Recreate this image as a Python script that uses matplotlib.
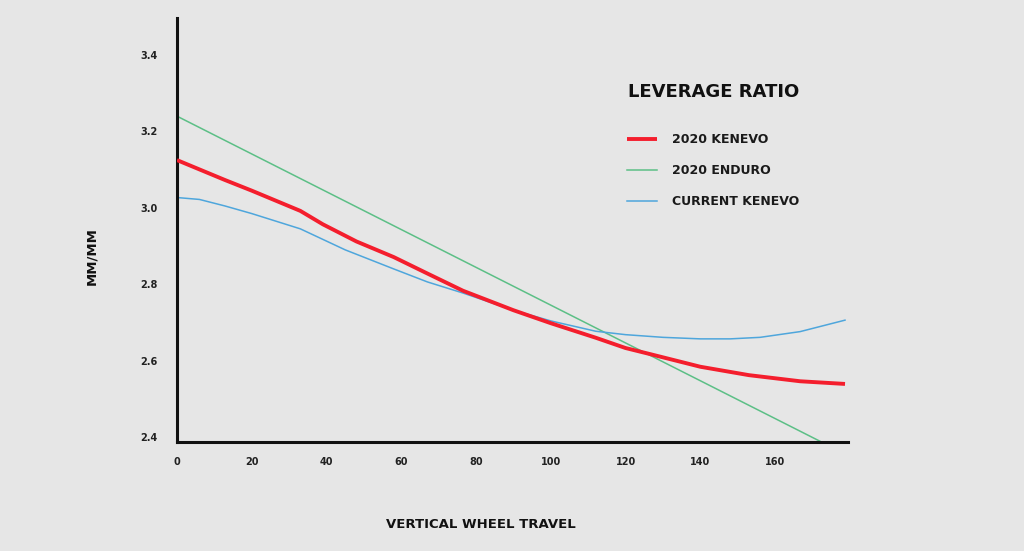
import matplotlib
matplotlib.use("Agg")
import matplotlib.pyplot as plt

# leverage ratio curves (wheel travel mm, ratio)
kenevo20_x = [0, 12.8, 20, 33, 39, 48, 58, 67, 76.5, 90, 100, 112, 120, 126.6, 140, 153, 166.7, 178.7]
kenevo20_y = [3.125, 3.073, 3.045, 2.992, 2.957, 2.912, 2.871, 2.828, 2.783, 2.732, 2.698, 2.660, 2.633, 2.617, 2.584, 2.562, 2.546, 2.539]

enduro_x = [0, 172]
enduro_y = [3.24, 2.389]

current_x = [0, 6, 12.8, 20, 33, 45, 58, 67, 76.5, 90, 100, 112, 120, 130, 140, 148, 156, 166.7, 178.7]
current_y = [3.027, 3.022, 3.005, 2.985, 2.945, 2.890, 2.840, 2.806, 2.777, 2.732, 2.704, 2.677, 2.668, 2.661, 2.657, 2.657, 2.661, 2.676, 2.706]

xticks = [0, 20, 40, 60, 80, 100, 120, 140, 160]
yticks = [2.4, 2.6, 2.8, 3.0, 3.2, 3.4]

bg = "#e6e6e6"
fig = plt.figure(figsize=(10.24, 5.51), dpi=100, facecolor=bg)
ax = fig.add_axes([177/1024, 1 - 442/551, (848 - 177)/1024, (442 - 18)/551])
ax.set_facecolor(bg)

ax.plot(enduro_x, enduro_y, color="#5cbf86", lw=1.1, label="2020 ENDURO", zorder=2)
ax.plot(current_x, current_y, color="#4ea6dc", lw=1.1, label="CURRENT KENEVO", zorder=2)
ax.plot(kenevo20_x, kenevo20_y, color="#f41e2d", lw=2.8, label="2020 KENEVO", zorder=3,
        solid_capstyle="butt")

ax.set_xlim(0, 179.5)
ax.set_ylim(2.387, 3.497)

for s in ["top", "right"]:
    ax.spines[s].set_visible(False)
for s in ["left", "bottom"]:
    ax.spines[s].set_linewidth(2.2)
    ax.spines[s].set_color("#111111")

ax.set_xticks(xticks)
ax.set_xticklabels([str(t) for t in xticks])
ax.set_yticks(yticks)
ax.set_yticklabels(["%.1f" % t for t in yticks])
ax.tick_params(axis="both", length=0, labelsize=7, colors="#222222")
ax.tick_params(axis="y", pad=14)
ax.tick_params(axis="x", pad=11)
for lab in ax.get_xticklabels() + ax.get_yticklabels():
    lab.set_fontweight("bold")

# legend in the order shown on the chart
h, l = ax.get_legend_handles_labels()
order = [2, 0, 1]
leg = fig.legend([h[i] for i in order], [l[i] for i in order],
                 loc="upper left", bbox_to_anchor=(627/1024, 1 - 133/551),
                 frameon=False, borderpad=0, borderaxespad=0,
                 handlelength=2.4, handletextpad=1.2, labelspacing=1.45,
                 prop={"size": 9, "weight": "bold"})
for t in leg.get_texts():
    t.set_color("#1a1a1a")

fig.text(628/1024, 1 - 92/551, "LEVERAGE RATIO", fontsize=13, fontweight="bold",
         color="#111111", ha="left", va="center")
fig.text(481/1024, 1 - 524/551, "VERTICAL WHEEL TRAVEL", fontsize=9.5, fontweight="bold",
         color="#111111", ha="center", va="center")
fig.text(92/1024, 1 - 256/551, "MM/MM", fontsize=9.5, fontweight="bold",
         color="#111111", ha="center", va="center", rotation=90)

fig.savefig("out.png", dpi=100, facecolor=bg)
